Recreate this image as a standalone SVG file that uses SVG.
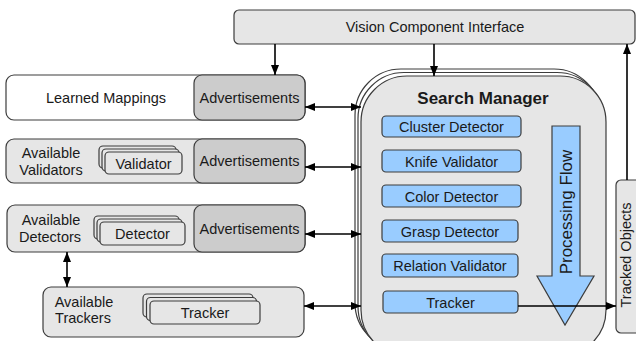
<svg xmlns="http://www.w3.org/2000/svg" width="636" height="341" viewBox="0 0 636 341">
<defs>
<style>
text{font-family:"Liberation Sans",Arial,sans-serif;font-size:14.5px;fill:#1a1a1a;text-anchor:middle}
.box{fill:#e6e6e6;stroke:#3c3c3c;stroke-width:1.2}
.adv{fill:#cccccc;stroke:#3c3c3c;stroke-width:1.2}
.wht{fill:#ffffff;stroke:#3c3c3c;stroke-width:1.2}
.blue{fill:#99ccff;stroke:#3c3c3c;stroke-width:1.2}
.ln{fill:none;stroke:#000;stroke-width:1.6}
</style>
<marker id="ah" viewBox="0 0 10 8" refX="10" refY="4" markerWidth="10" markerHeight="8" markerUnits="userSpaceOnUse" orient="auto-start-reverse">
<path d="M0,0 L10,4 L0,8 z" fill="#000"/>
</marker>
</defs>

<g id="vci">
<rect class="box" x="234" y="10" width="401" height="34" rx="5"/>
<text x="435" y="32">Vision Component Interface</text>
</g>

<g id="learned-mappings">
<rect class="wht" x="6" y="75" width="299" height="45" rx="8"/>
<rect class="adv" x="194" y="75" width="111" height="45" rx="8"/>
<text x="106" y="103">Learned Mappings</text>
<text x="249.5" y="103">Advertisements</text>
</g>

<g id="available-validators">
<rect class="box" x="6" y="139" width="299" height="44" rx="8"/>
<rect class="adv" x="194" y="139" width="111" height="44" rx="8"/>
<text x="51" y="158">Available</text>
<text x="51" y="175">Validators</text>
<rect class="box" x="99" y="146" width="77" height="22" rx="4"/>
<rect class="box" x="102" y="149" width="77" height="22" rx="4"/>
<rect class="box" x="105" y="152" width="77" height="22" rx="4"/>
<text x="143.5" y="169">Validator</text>
<text x="249.5" y="166">Advertisements</text>
</g>

<g id="available-detectors">
<rect class="box" x="7" y="205" width="298" height="47" rx="8"/>
<rect class="adv" x="194" y="205" width="111" height="47" rx="8"/>
<text x="51" y="225">Available</text>
<text x="50" y="242">Detectors</text>
<rect class="box" x="94" y="216" width="85" height="23" rx="4"/>
<rect class="box" x="97" y="219" width="85" height="23" rx="4"/>
<rect class="box" x="100" y="222" width="85" height="23" rx="4"/>
<text x="142.5" y="239">Detector</text>
<text x="249.5" y="234">Advertisements</text>
</g>

<g id="available-trackers">
<rect class="box" x="43" y="287" width="261" height="50" rx="8"/>
<text x="84" y="307">Available</text>
<text x="83" y="323">Trackers</text>
<rect class="box" x="143" y="294" width="110" height="23" rx="4"/>
<rect class="box" x="146.5" y="297.5" width="110" height="23" rx="4"/>
<rect class="box" x="150" y="301" width="110" height="23" rx="4"/>
<text x="205" y="318">Tracker</text>
</g>

<g id="search-manager">
<rect class="wht" x="355" y="69" width="245" height="280" rx="46"/>
<rect class="wht" x="358" y="72.5" width="245" height="280" rx="46"/>
<rect class="box" x="361" y="76" width="245" height="280" rx="46"/>
<text x="483" y="104" style="font-weight:bold;font-size:17px">Search Manager</text>
<rect class="blue" x="382" y="116" width="139" height="21" rx="4"/>
<text x="451.5" y="132">Cluster Detector</text>
<rect class="blue" x="382" y="150" width="139" height="22" rx="4"/>
<text x="451.5" y="166.5">Knife Validator</text>
<rect class="blue" x="382" y="185" width="139" height="22" rx="4"/>
<text x="451.5" y="201.5">Color Detector</text>
<rect class="blue" x="382" y="220" width="136" height="22" rx="4"/>
<text x="450" y="236.5">Grasp Detector</text>
<rect class="blue" x="382" y="254" width="136" height="23" rx="4"/>
<text x="450" y="271">Relation Validator</text>
<rect class="blue" x="383" y="291" width="135" height="22" rx="4"/>
<text x="450.5" y="307.5">Tracker</text>
</g>

<g id="processing-flow">
<path class="blue" d="M552,126 L580,126 L580,276 L594,276 L565,325 L537,276 L552,276 Z"/>
<text transform="translate(572,212) rotate(-90)" style="font-size:17px">Processing Flow</text>
</g>

<g id="tracked-objects">
<rect class="box" x="616" y="180" width="30" height="153" rx="5"/>
<text transform="translate(631,255) rotate(-90)">Tracked Objects</text>
</g>

<g id="connectors">
<line class="ln" x1="275" y1="44" x2="275" y2="75" marker-end="url(#ah)"/>
<line class="ln" x1="434" y1="44" x2="434" y2="76" marker-end="url(#ah)"/>
<line class="ln" x1="627" y1="180" x2="627" y2="44" marker-end="url(#ah)"/>
<line class="ln" x1="305" y1="107" x2="361" y2="107" marker-start="url(#ah)" marker-end="url(#ah)"/>
<line class="ln" x1="305" y1="167" x2="361" y2="167" marker-start="url(#ah)" marker-end="url(#ah)"/>
<line class="ln" x1="305" y1="234" x2="361" y2="234" marker-start="url(#ah)" marker-end="url(#ah)"/>
<line class="ln" x1="304" y1="306" x2="361" y2="306" marker-start="url(#ah)" marker-end="url(#ah)"/>
<line class="ln" x1="67" y1="252" x2="67" y2="287" marker-start="url(#ah)" marker-end="url(#ah)"/>
<line class="ln" x1="518" y1="306" x2="616" y2="306" marker-end="url(#ah)"/>
</g>
</svg>
